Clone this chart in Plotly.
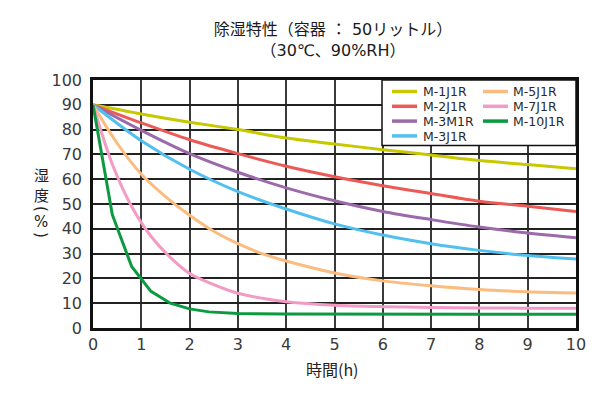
import plotly.graph_objects as go

# ---------------- data ----------------
series_names = ["M-1J1R", "M-2J1R", "M-3M1R", "M-3J1R", "M-5J1R", "M-7J1R", "M-10J1R"]
series_colors = ["#c8c800", "#ec5a56", "#9c6aaa", "#52c0ee", "#fbbc80", "#f39bc4", "#0b9a40"]

hours_m1 = [0, 1, 2, 3, 4, 5, 6, 7, 8, 9, 10]
hum_m1 = [90, 86.3, 83.0, 80.0, 76.6, 74.2, 71.9, 69.8, 67.5, 65.9, 64.2]

hours_m2 = [0, 1, 2, 3, 4, 5, 6, 7, 8, 9, 10]
hum_m2 = [90, 82.7, 75.9, 70.3, 65.2, 61.0, 57.4, 54.2, 51.1, 49.1, 47.0]

hours_m3m = [0, 1, 2, 3, 4, 5, 6, 7, 8, 9, 10]
hum_m3m = [90, 79.7, 70.3, 62.8, 56.5, 51.3, 47.0, 43.7, 40.7, 38.3, 36.4]

hours_m3 = [0, 1, 2, 3, 4, 5, 6, 7, 8, 9, 10]
hum_m3 = [90, 75.5, 64.0, 55.0, 48.0, 42.0, 37.5, 34.0, 31.3, 29.2, 27.8]

hours_m5 = [0, 0.5, 1, 1.5, 2, 2.5, 3, 3.5, 4, 5, 6, 7, 8, 9, 10]
hum_m5 = [90, 74.5, 62.0, 53.0, 45.5, 39.0, 34.0, 30.0, 27.0, 22.2, 19.0, 17.0, 15.5, 14.6, 14.1]

hours_m7 = [0, 0.4, 0.8, 1.2, 1.6, 2, 2.5, 3, 3.5, 4, 5, 6, 7, 8, 9, 10]
hum_m7 = [90, 66.0, 49.0, 37.0, 28.5, 22.0, 17.5, 14.0, 12.0, 10.6, 9.2, 8.6, 8.3, 8.1, 8.0, 8.0]

hours_m10 = [0, 0.4, 0.8, 1.2, 1.6, 2.0, 2.4, 3, 4, 5, 6, 7, 8, 9, 10]
hum_m10 = [90, 45.7, 24.8, 14.8, 10.0, 7.7, 6.5, 5.8, 5.6, 5.5, 5.5, 5.5, 5.5, 5.5, 5.5]

x_ticks = [0, 1, 2, 3, 4, 5, 6, 7, 8, 9, 10]
y_ticks = [0, 10, 20, 30, 40, 50, 60, 70, 80, 90, 100]

title_line1 = "除湿特性（容器 ： 50リットル）"
title_line2 = "（30℃、90%RH）"
x_title = "時間(h)"
y_title_main = "湿<br>度"
y_title_unit = ["(", "%", ")"]

all_x = [hours_m1, hours_m2, hours_m3m, hours_m3, hours_m5, hours_m7, hours_m10]
all_y = [hum_m1, hum_m2, hum_m3m, hum_m3, hum_m5, hum_m7, hum_m10]
shapes_kind = ["spline", "spline", "spline", "spline", "spline", "spline", "linear"]

# ---------------- layout geometry (window pixels) ----------------
WIN_W, WIN_H = 601, 408
OFF = 8                       # default body margin of the html page
W, H = WIN_W - OFF, WIN_H - OFF
L, R, T, B = 93, 576, 80, 328  # plot area in window pixels


def px_x(p):
    return (p - L) / (R - L)


def px_y(p):
    return (B - p) / (B - T)


NUM_FONT = "DejaVu Sans"
JP_FONT = "Noto Sans CJK JP"
MIX_FONT = "DejaVu Sans, Noto Sans CJK JP"

fig = go.Figure()
for name, color, xs, ys, shp in zip(series_names, series_colors, all_x, all_y, shapes_kind):
    fig.add_trace(go.Scatter(
        x=xs, y=ys, name=name, mode="lines",
        line=dict(color=color, width=3, shape=shp, smoothing=0.9),
        showlegend=False, hoverinfo="x+y+name",
    ))

shapes = []
annotations = []

# legend box (manual, two columns)
shapes.append(dict(type="rect", xref="paper", yref="paper",
                   x0=px_x(382), x1=1, y0=px_y(145.5), y1=1,
                   line=dict(color="#111", width=1.5), fillcolor="white", layer="above"))
col_cfg = [(392, 417, 421), (483, 508, 511)]
row_y = [91.5, 106.3, 121.1, 135.9]
order = [(0, 0), (0, 1), (0, 2), (0, 3), (1, 0), (1, 1), (1, 2)]
for (c, r), name, color in zip(order, series_names, series_colors):
    lx0, lx1, tx = col_cfg[c]
    yy = row_y[r]
    shapes.append(dict(type="line", xref="paper", yref="paper",
                       x0=px_x(lx0), x1=px_x(lx1), y0=px_y(yy), y1=px_y(yy),
                       line=dict(color=color, width=3.5), layer="above"))
    annotations.append(dict(xref="paper", yref="paper", x=px_x(tx), y=px_y(yy + 0.5),
                            text=name, showarrow=False, xanchor="left", yanchor="middle",
                            font=dict(family=NUM_FONT, size=12.5, color="#2a2a2a")))

# y-axis title: vertical Japanese text 湿 / 度 / (%) with turned parentheses
annotations.append(dict(xref="paper", yref="paper", x=px_x(41), y=px_y(184.5),
                        text=y_title_main, showarrow=False, xanchor="center", yanchor="middle",
                        font=dict(family=JP_FONT, size=15, color="#222")))
unit_pos = [(209, 90), (221.5, 0), (235, 90)]
for ch, (yy, ang) in zip(y_title_unit, unit_pos):
    annotations.append(dict(xref="paper", yref="paper", x=px_x(41), y=px_y(yy),
                            text=ch, showarrow=False, xanchor="center", yanchor="middle",
                            textangle=ang,
                            font=dict(family=NUM_FONT, size=15, color="#222")))

# x-axis title
annotations.append(dict(xref="paper", yref="paper", x=px_x(332), y=px_y(368.5),
                        text=x_title, showarrow=False, xanchor="center", yanchor="middle",
                        font=dict(family=JP_FONT, size=16, color="#222")))

fig.update_layout(
    width=W, height=H,
    margin=dict(l=L - OFF, r=W - (R - OFF), t=T - OFF, b=H - (B - OFF), pad=0),
    paper_bgcolor="white", plot_bgcolor="white",
    title=dict(text=title_line1 + "<br>" + title_line2,
               x=(333 - OFF) / W, xanchor="center",
               y=1 - (35 - OFF) / H, yanchor="top",
               font=dict(family=MIX_FONT, size=16, color="#1a1a1a")),
    shapes=shapes, annotations=annotations,
    xaxis=dict(range=[0, 10], tickvals=x_ticks, ticktext=[str(v) for v in x_ticks],
               showgrid=True, gridcolor="#3a3a3a", gridwidth=1.5,
               showline=True, linecolor="#111", linewidth=2.5, mirror=True,
               ticks="", tickfont=dict(family=NUM_FONT, size=16, color="#3a3a3a"),
               zeroline=False, fixedrange=True),
    yaxis=dict(range=[0, 100], tickvals=y_ticks, ticktext=[str(v) for v in y_ticks],
               showgrid=True, gridcolor="#222", gridwidth=1.5,
               showline=True, linecolor="#111", linewidth=2.5, mirror=True,
               ticks="outside", ticklen=5, tickcolor="rgba(0,0,0,0)",
               tickfont=dict(family=NUM_FONT, size=16, color="#3a3a3a"),
               zeroline=False, fixedrange=True),
    showlegend=False,
)

fig.write_html("out.html")
